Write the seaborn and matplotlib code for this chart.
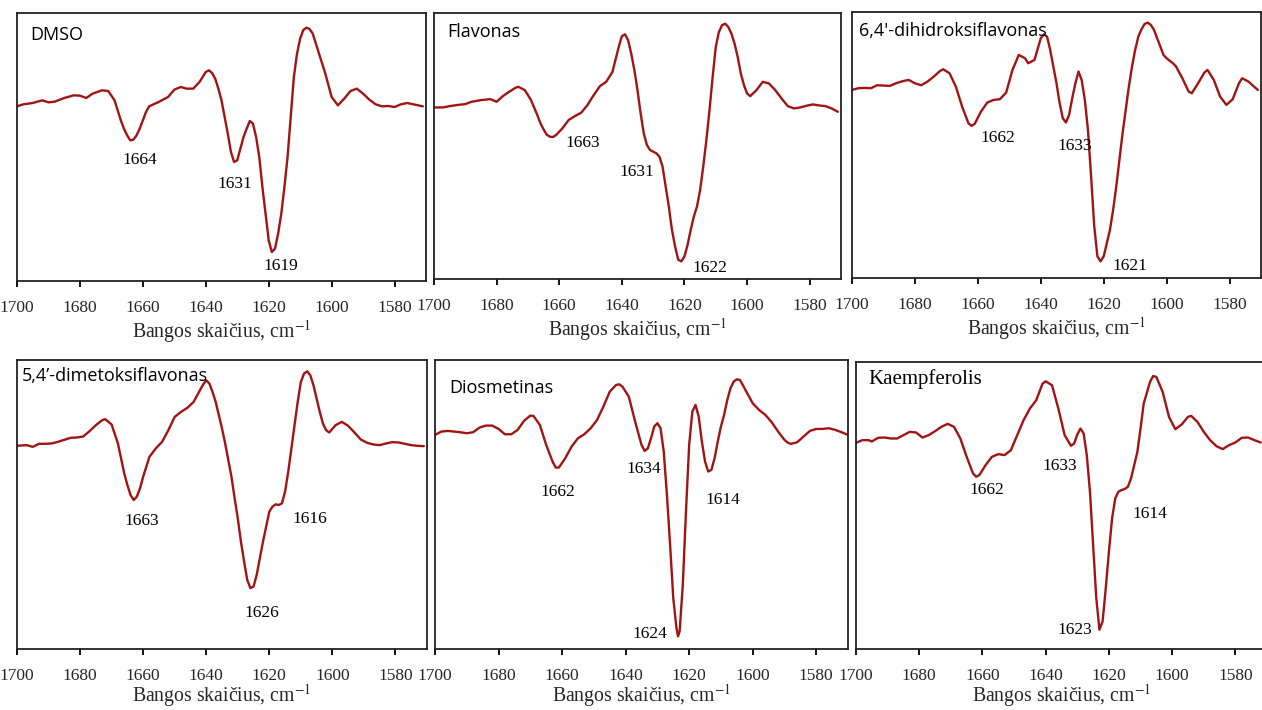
import numpy as np
import pandas as pd
import matplotlib
matplotlib.use("Agg")
import matplotlib.pyplot as plt
import seaborn as sns

# Second-derivative FTIR spectra (arbitrary units) in the 1700-1570 cm-1 region

dmso_wn = [1700, 1698, 1695, 1692, 1690, 1688, 1685, 1682, 1680, 1678, 1676, 1673,
           1671, 1669, 1668, 1667, 1666, 1665, 1664, 1663, 1662, 1661, 1660, 1659,
           1658, 1655, 1652, 1650, 1648, 1646, 1644, 1642, 1640, 1639, 1638, 1637,
           1636, 1635, 1634, 1633, 1632, 1631, 1630, 1629, 1628, 1627, 1626, 1625,
           1624, 1623, 1622, 1621, 1620, 1619, 1618, 1617, 1616, 1615, 1614, 1613,
           1612, 1611, 1610, 1609, 1608, 1607, 1606, 1604, 1602, 1600, 1598, 1596,
           1594, 1592, 1590, 1588, 1586, 1584, 1582, 1580, 1578, 1576, 1574, 1571]
dmso_d2 = [0.0, 0.6, 1.0, 1.8, 1.2, 1.4, 2.5, 3.3, 3.2, 2.5, 3.8, 4.8,
           4.6, 1.8, -1.2, -4.2, -6.7, -8.7, -10.2, -10.0, -8.7, -6.7, -4.2, -1.7,
           0.0, 1.3, 2.8, 5.0, 5.8, 5.3, 5.3, 7.3, 10.3, 10.8, 10.0, 8.3,
           5.3, 1.8, -3.2, -8.2, -13.7, -16.7, -16.2, -12.7, -9.2, -6.7, -4.4, -5.2,
           -9.2, -15.2, -24.2, -32.2, -40.2, -43.7, -42.7, -38.2, -32.2, -24.2, -15.2, -3.2,
           8.8, 15.8, 20.3, 22.9, 23.6, 23.2, 21.8, 15.8, 9.8, 2.8, 0.3, 2.3,
           4.6, 5.3, 3.8, 2.0, 0.6, 0.0, 0.1, -0.2, 0.6, 1.0, 0.6, 0.0]

flavonas_wn = [1700, 1697, 1695, 1692, 1690, 1688, 1685, 1682, 1680, 1678, 1676, 1674,
               1673, 1671, 1669, 1667, 1666, 1665, 1664, 1663, 1662, 1661, 1659, 1657,
               1655, 1653, 1651, 1649, 1647, 1645, 1643, 1641, 1640, 1639, 1638, 1637,
               1636, 1635, 1634, 1633, 1632, 1631, 1630, 1629, 1628, 1627, 1626, 1625,
               1624, 1623, 1622, 1621, 1620, 1619, 1618, 1617, 1616, 1615, 1614, 1613,
               1612, 1611, 1610, 1609, 1608, 1607, 1606, 1605, 1604, 1603, 1602, 1601,
               1600, 1599, 1597, 1595, 1593, 1591, 1589, 1587, 1585, 1583, 1581, 1579,
               1577, 1575, 1573, 1571]
flavonas_d2 = [0.0, 0.0, 0.4, 0.8, 1.0, 1.7, 2.2, 2.5, 1.7, 3.4, 4.7, 5.9,
               6.2, 5.2, 2.2, -2.3, -4.8, -6.6, -8.2, -8.8, -8.9, -8.3, -6.3, -3.8,
               -2.6, -1.6, 0.7, 3.7, 6.4, 7.7, 10.7, 18.2, 21.4, 22.0, 20.2, 16.2,
               11.2, 5.2, -1.8, -7.8, -11.3, -12.8, -13.3, -13.8, -14.8, -17.8, -23.8, -29.8,
               -36.8, -41.8, -45.8, -46.3, -44.8, -41.3, -36.8, -32.8, -29.8, -24.8, -17.8, -9.8,
               -0.8, 9.2, 18.2, 22.7, 24.7, 25.2, 24.2, 22.2, 19.2, 15.2, 10.2, 6.7,
               4.2, 3.4, 5.2, 7.7, 7.2, 5.2, 2.7, 0.4, -0.3, 0.0, 0.5, 0.9,
               0.6, 0.4, -0.3, -1.3]

dihidroksi_wn = [1700, 1698, 1696, 1694, 1692, 1690, 1688, 1686, 1684, 1682, 1680, 1678,
                 1676, 1674, 1672, 1671, 1669, 1667, 1665, 1663, 1662, 1661, 1659, 1657,
                 1655, 1653, 1651, 1649, 1647, 1645, 1644, 1642, 1640, 1639, 1638, 1637,
                 1636, 1635, 1634, 1633, 1632, 1631, 1630, 1629, 1628, 1627, 1626, 1625,
                 1624, 1623, 1622, 1621, 1620, 1619, 1618, 1617, 1616, 1615, 1614, 1613,
                 1612, 1611, 1610, 1609, 1608, 1607, 1606, 1605, 1604, 1603, 1602, 1601,
                 1600, 1598, 1597, 1595, 1593, 1592, 1590, 1588, 1587, 1585, 1583, 1581,
                 1579, 1577, 1576, 1574, 1572, 1571]
dihidroksi_d2 = [-0.2, 0.3, 0.4, 0.3, 1.2, 1.1, 1.0, 1.8, 2.4, 2.8, 1.8, 1.2,
                 2.3, 3.8, 5.5, 6.0, 4.8, 0.8, -5.2, -10.2, -11.0, -10.4, -6.7, -4.0,
                 -3.2, -3.0, -1.0, 5.8, 10.3, 9.3, 7.8, 8.8, 15.3, 16.5, 15.8, 11.8,
                 6.8, 1.8, -4.2, -8.7, -10.0, -7.7, -2.7, 1.8, 5.3, 2.8, -3.2, -12.2,
                 -26.2, -41.2, -50.2, -51.7, -50.2, -46.2, -42.2, -36.2, -29.2, -21.2, -13.2, -6.2,
                 0.8, 6.8, 11.8, 15.8, 18.0, 19.6, 20.0, 19.3, 17.8, 15.3, 12.8, 10.3,
                 9.3, 7.8, 6.8, 3.3, -0.7, -1.2, 1.8, 5.0, 5.8, 2.8, -2.2, -4.7,
                 -3.0, 1.8, 3.3, 2.3, 0.6, -0.2]

dimetoksi_wn = [1700, 1697, 1695, 1693, 1691, 1689, 1687, 1685, 1683, 1681, 1679, 1677,
                1675, 1673, 1672, 1670, 1668, 1667, 1666, 1665, 1664, 1663, 1662, 1661,
                1660, 1658, 1656, 1654, 1652, 1650, 1648, 1646, 1644, 1642, 1641, 1640,
                1639, 1638, 1637, 1636, 1635, 1634, 1633, 1632, 1631, 1630, 1629, 1628,
                1627, 1626, 1625, 1624, 1623, 1622, 1621, 1620, 1619, 1618, 1617, 1616,
                1615, 1614, 1613, 1612, 1611, 1610, 1609, 1608, 1607, 1606, 1605, 1604,
                1603, 1602, 1601, 1599, 1597, 1595, 1593, 1591, 1589, 1587, 1585, 1583,
                1581, 1579, 1577, 1575, 1573, 1571]
dimetoksi_d2 = [0.0, 0.2, -0.3, 0.6, 0.6, 0.7, 1.2, 1.8, 2.4, 2.5, 2.8, 4.4,
                6.2, 7.7, 8.0, 6.4, 0.7, -3.8, -8.3, -11.8, -14.8, -16.3, -15.3, -12.8,
                -9.3, -3.3, -0.8, 1.2, 4.7, 8.7, 10.2, 11.4, 13.2, 16.7, 18.4, 19.7,
                18.7, 16.2, 13.2, 9.2, 5.2, 0.7, -4.3, -9.3, -15.8, -21.8, -28.8, -34.8,
                -40.3, -42.8, -42.3, -38.8, -33.8, -28.8, -24.3, -19.8, -18.3, -17.6, -17.8, -17.3,
                -13.8, -7.8, -0.8, 6.2, 13.2, 19.2, 21.7, 22.4, 21.2, 18.2, 14.2, 10.2,
                6.7, 4.7, 4.0, 6.2, 7.2, 6.0, 4.0, 1.9, 0.9, 0.4, 0.2, 0.7,
                1.1, 1.0, 0.6, 0.2, 0.0, -0.1]

diosmetinas_wn = [1700, 1698, 1696, 1694, 1692, 1690, 1688, 1686, 1684, 1682, 1680, 1678,
                  1676, 1674, 1672, 1670, 1669, 1667, 1665, 1663, 1662, 1661, 1659, 1657,
                  1655, 1653, 1651, 1649, 1647, 1645, 1643, 1642, 1641, 1639, 1637, 1635,
                  1634, 1633, 1632, 1631, 1630, 1629, 1628, 1627, 1626, 1625, 1624, 1623.5,
                  1623, 1622, 1621, 1620, 1619, 1618, 1617, 1616, 1615, 1614, 1613, 1612,
                  1611, 1610, 1609, 1608, 1607, 1606, 1605, 1604, 1602, 1600, 1598, 1596,
                  1594, 1592, 1590, 1589, 1588, 1586, 1584, 1582, 1580, 1578, 1576, 1574,
                  1572, 1570]
diosmetinas_d2 = [-0.5, 0.5, 0.7, 0.5, 0.3, 0.0, 0.3, 1.7, 2.3, 2.3, 1.3, -0.3,
                  -0.3, 1.0, 3.7, 5.3, 5.2, 2.5, -3.5, -8.5, -10.3, -10.3, -7.5, -4.0,
                  -1.5, -0.3, 1.5, 4.0, 8.0, 12.5, 14.5, 14.7, 14.0, 11.0, 3.5, -3.5,
                  -5.3, -4.5, -1.5, 2.0, 3.0, 1.5, -5.5, -18.5, -33.5, -49.5, -58.5, -61.0,
                  -59.5, -45.5, -23.5, -3.5, 6.5, 8.5, 5.0, -2.5, -8.5, -11.5, -11.0, -7.5,
                  -2.5, 2.0, 5.5, 10.0, 13.5, 15.5, 16.2, 16.0, 12.5, 9.0, 7.0, 5.5,
                  3.3, 0.5, -2.0, -2.8, -3.2, -2.7, -1.0, 0.7, 1.3, 1.3, 1.5, 1.0,
                  0.3, -0.5]

kaempferolis_wn = [1700, 1698, 1696, 1695, 1693, 1691, 1689, 1687, 1685, 1683, 1681, 1679,
                   1677, 1675, 1673, 1671, 1669, 1667, 1665, 1663, 1662, 1661, 1659, 1657,
                   1655, 1653, 1651, 1649, 1647, 1645, 1643, 1641, 1640, 1638, 1636, 1634,
                   1632, 1631, 1630, 1629, 1628, 1627, 1626, 1625, 1624, 1623, 1622, 1621,
                   1620, 1619, 1618, 1617, 1616, 1615, 1614, 1613, 1612, 1611, 1610, 1609,
                   1607, 1606, 1605, 1603, 1601, 1599, 1597, 1595, 1594, 1592, 1590, 1588,
                   1586, 1584, 1582, 1580, 1578, 1576, 1574, 1572]
kaempferolis_d2 = [-0.3, 0.5, 0.5, 0.1, 1.2, 1.3, 1.0, 1.0, 2.0, 3.0, 2.8, 1.3,
                   2.0, 3.2, 4.5, 5.4, 4.5, 1.0, -4.5, -9.5, -10.5, -10.0, -7.0, -4.5,
                   -3.7, -4.0, -2.5, 2.0, 6.5, 10.0, 12.5, 17.5, 18.2, 17.0, 10.0, 2.0,
                   -1.2, -0.5, 2.2, 4.0, 2.5, -4.0, -15.0, -31.0, -47.0, -56.5, -54.0, -44.0,
                   -33.0, -23.0, -17.0, -15.0, -14.5, -14.2, -13.5, -11.0, -7.0, -3.0, 4.0, 11.5,
                   18.0, 19.8, 19.5, 15.0, 7.5, 3.8, 5.2, 7.5, 7.8, 6.0, 3.0, 0.5,
                   -1.3, -2.2, -1.0, -0.2, 1.2, 1.3, 0.5, -0.2]

sample_names = ["DMSO", "Flavonas", "6,4'-dihidroksiflavonas",
                "5,4\u2019-dimetoksiflavonas", "Diosmetinas", "Kaempferolis"]

# Band positions written next to the minima
band_labels = [
    ["1664", "1631", "1619"],
    ["1663", "1631", "1622"],
    ["1662", "1633", "1621"],
    ["1663", "1626", "1616"],
    ["1662", "1634", "1614", "1624"],
    ["1662", "1633", "1614", "1623"],
]

tick_values = [1700, 1680, 1660, 1640, 1620, 1600, 1580]
x_label = "Bangos skai\u010dius, cm$^{-1}$"

spectra = [
    (dmso_wn, dmso_d2),
    (flavonas_wn, flavonas_d2),
    (dihidroksi_wn, dihidroksi_d2),
    (dimetoksi_wn, dimetoksi_d2),
    (diosmetinas_wn, diosmetinas_d2),
    (kaempferolis_wn, kaempferolis_d2),
]

# ---- layout / styling ----
sns.set_theme(style="white")
plt.rcParams["font.family"] = ["Liberation Serif", "DejaVu Serif"]
plt.rcParams["mathtext.fontset"] = "stix"

line_color = "#a01414"
W, H = 1262, 710

# axes frames in pixels: left, top, right, bottom
frames_px = [
    (17, 13, 426, 281),
    (434, 13, 841, 279),
    (852, 12, 1261, 278),
    (17, 360, 427, 649),
    (435, 360, 848, 649),
    (856, 362, 1267, 649),
]
ylims = [(-52.4, 28.0), (-51.6, 28.4), (-56.7, 23.2),
         (-61.1, 25.8), (-64.8, 22.0), (-62.3, 24.0)]

# label anchor positions (wavenumber, value) for each panel
title_pos = [(1695.8, 21.3), (1695.9, 22.7), (1697.7, 17.6),
             (1698.4, 20.9), (1695.4, 13.5), (1696.2, 18.8)]
band_pos = [
    [(1661.0, -16.2), (1630.8, -23.2), (1616.0, -47.9)],
    [(1652.6, -10.8), (1635.3, -19.5), (1612.0, -48.3)],
    [(1653.7, -14.7), (1629.2, -17.0), (1611.7, -53.2)],
    [(1660.5, -22.6), (1622.5, -50.3), (1607.2, -22.0)],
    [(1661.4, -17.7), (1634.2, -10.8), (1609.5, -20.0), (1632.4, -60.3)],
    [(1658.5, -14.5), (1635.5, -7.3), (1607.0, -21.8), (1630.7, -56.5)],
]

fig = plt.figure(figsize=(W / 100, H / 100), dpi=100)
fig.patch.set_facecolor("white")

for i, ((wn, d2), name) in enumerate(zip(spectra, sample_names)):
    l, t, r, b = frames_px[i]
    ax = fig.add_axes([l / W, 1 - b / H, (r - l) / W, (b - t) / H])
    df = pd.DataFrame({"wn": wn, "d2": d2})
    sns.lineplot(data=df, x="wn", y="d2", ax=ax, color=line_color,
                 linewidth=1.7, sort=False, estimator=None,
                 solid_joinstyle="round", solid_capstyle="round")
    ax.set_xlim(1700, 1570)
    ax.set_ylim(*ylims[i])
    ax.set_xticks(tick_values)
    ax.set_xticklabels([str(v) for v in tick_values], fontsize=12.5)
    ax.set_yticks([])
    ax.set_ylabel("")
    bottom_row = i >= 3
    ax.set_xlabel(x_label, fontsize=14.2, labelpad=-1.5 if bottom_row else 1)
    ax.tick_params(axis="x", direction="out", length=4.5, width=1.3,
                   color="black", pad=9.0 if bottom_row else 9.5, bottom=True)
    for sp in ax.spines.values():
        sp.set_color("#222222")
        sp.set_linewidth(1.3)
    ax.set_facecolor("white")

    title_family = ["Liberation Serif"] if name == "Kaempferolis" else ["Open Sans", "DejaVu Sans"]
    tx, ty = title_pos[i]
    ax.text(tx, ty, name, fontsize=13 if name != "Kaempferolis" else 15,
            family=title_family, ha="left", va="center", color="black")

    for lab, (bx, by) in zip(band_labels[i], band_pos[i]):
        ax.text(bx, by, lab, fontsize=12.5, ha="center", va="center", color="black")

fig.savefig("out.png", dpi=100, facecolor="white")
